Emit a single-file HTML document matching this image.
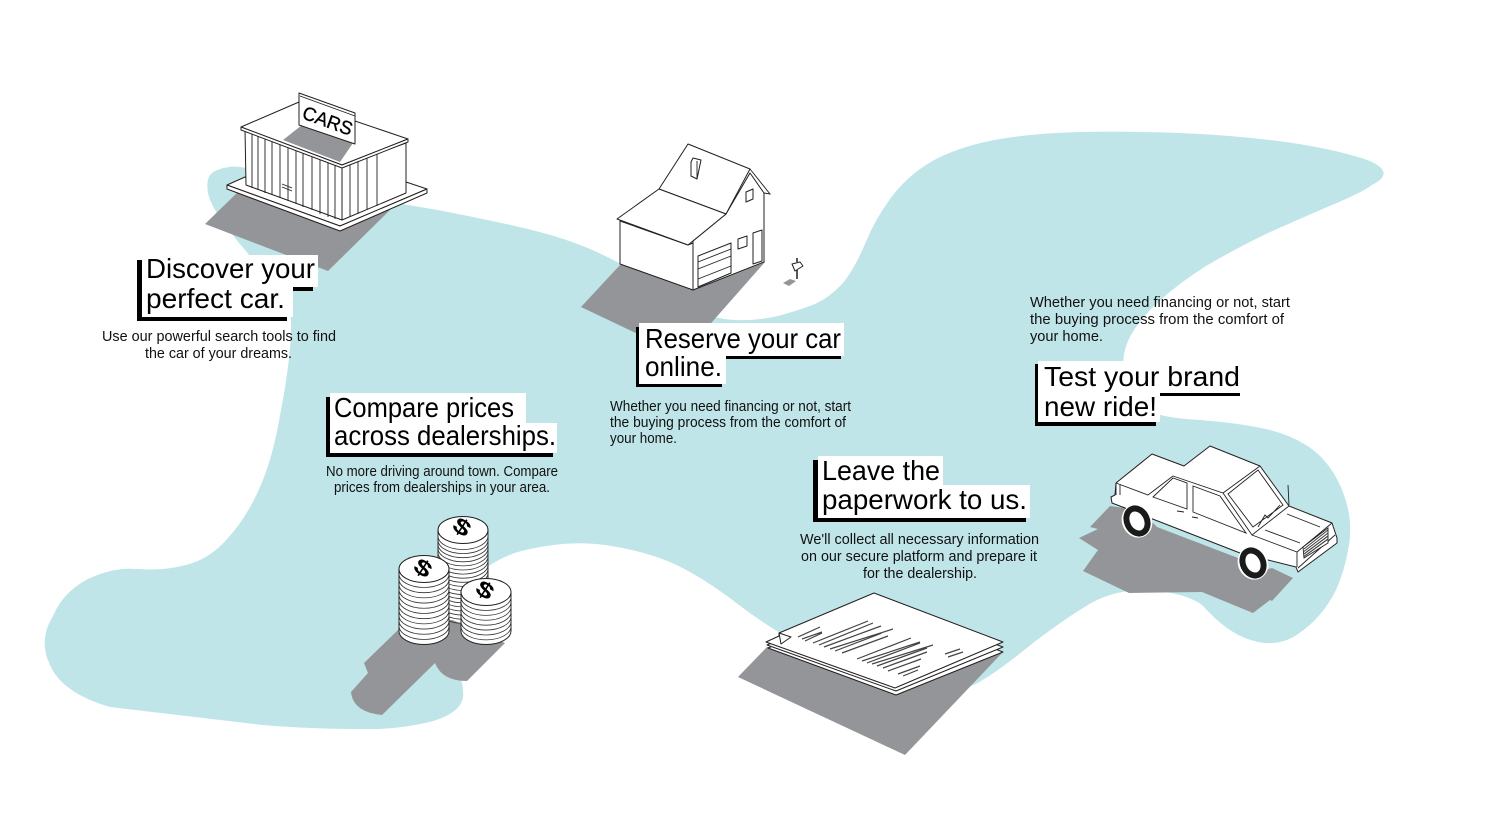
<!DOCTYPE html>
<html>
<head>
<meta charset="utf-8">
<style>
html,body{margin:0;padding:0;background:#fff;width:1500px;height:833px;overflow:hidden}
svg{display:block}
.t{font-family:"Liberation Sans",sans-serif;font-size:27.5px;fill:#000}
.b{font-family:"Liberation Sans",sans-serif;font-size:14.5px;fill:#111}
.l{fill:#fff;stroke:#231f20;stroke-width:1;stroke-linejoin:round}
.n{fill:none;stroke:#231f20;stroke-width:.9}
.c{fill:none;stroke:#333;stroke-width:.8}
.d{font-family:"Liberation Sans",sans-serif;font-weight:bold;font-size:22px;fill:#000}
</style>
</head>
<body>
<svg width="1500" height="833" viewBox="0 0 1500 833" xmlns="http://www.w3.org/2000/svg">
<rect width="1500" height="833" fill="#fff"/>
<path fill="#bfe5e8" d="M210,175 Q215,169 229,167 Q243,165 271,175 Q300,185 347,194 Q395,203 432,209 Q470,216 515,226 Q560,236 590,249 Q620,262 650,281 Q680,300 696,310 Q713,319 735,320 Q757,321 778,316 Q800,310 815,304 Q830,297 842,284 Q854,270 865,244 Q876,217 893,195 Q911,172 938,158 Q965,145 1000,139 Q1036,133 1081,132 Q1126,131 1179,133 Q1233,135 1286,142 Q1340,150 1370,161 Q1396,173 1372,185 Q1361,193 1332,205 Q1304,217 1268,233 Q1233,250 1206,266 Q1179,283 1157,303 Q1136,323 1128,341 Q1120,360 1125,380 Q1130,400 1145,409 Q1160,418 1200,420 Q1240,423 1270,430 Q1300,438 1318,454 Q1335,470 1344,495 Q1353,520 1349,545 Q1345,570 1336,590 Q1322,618 1298,634 Q1275,650 1245,638 Q1225,630 1205,608 Q1195,596 1155,590 Q1120,588 1093,602 Q1067,617 1033,643 Q1000,670 981,681 Q963,693 926,691 Q890,690 834,662 Q778,635 739,605 Q700,575 670,562 Q640,550 605,545 Q570,540 530,549 Q490,557 465,588 Q440,620 451,650 Q463,680 463,691 Q466,712 430,722 Q395,730 363,729 Q310,729 263,725 Q186,716 110,707 Q62,693 50,665 Q38,640 53,616 Q63,592 88,579 Q113,567 138,569 Q163,571 186,565 Q210,559 228,538 Q247,517 260,487 Q273,458 281,410 Q290,363 291,331 Q293,300 270,277 Q247,254 228,229 Q210,205 208,193 Q206,181 210,175 Z"/>

<!-- shadows -->
<g fill="#939598">
<polygon points="205,224 240,190 390,210 328,271"/>
<polygon points="581,307 620,265 765,262 705,330 640,335"/>
<polygon points="738,677 767,647 1003,652 905,755"/>
<polygon points="1110,506 1090,527 1098,529 1079,538 1098,550 1083,571 1129,593 1202,592 1253,613 1270,600 1272,601 1293,578 1272,568 1258,572 1238,558 1157,527 1140,510"/>
<path d="M398,630 L364,663 L368,673 L351,692 Q353,712 382,715 L435,663 Q442,681 467,681 L505,643 L448,618 Z"/>
<polygon points="783,283 790,279 796,281 789,286"/>
</g>

<!-- building -->
<polygon class="l" points="227,185 245,177 406,182 427,189 340,226"/>
<polygon class="l" points="227,185 340,226 427,189 427,193 340,231 227,189"/>
<polygon class="l" points="245,129 342,166 342,220 246,185"/>
<polygon class="l" points="342,166 406,143 406,193 342,220"/>
<path class="n" stroke-width=".8" d="M252,132V188M258,134V190M265,137V193M272,139V195M280,142V198M288,145V201M296,148V204M303,151V207M312,154V210M320,158V214M328,161V217M335,164V219M350,164V217M358,161V214M367,158V210M377,154V206"/>
<path class="n" d="M282,184L292,188M282,187L292,191" stroke-width=".7"/>
<polygon class="l" points="241,127 299,102 408,139 342,165"/>
<polygon class="l" points="241,127 342,165 408,139 408,142 342,168 241,130"/>
<polygon fill="#939598" points="283,140 302,125 353,143 340,162"/>
<polygon class="l" points="299,93 355,113 355,144 299,125"/>
<path class="n" d="M300,96L355,116"/>
<text x="301" y="118" transform="rotate(20 301 118)" font-family="Liberation Sans,sans-serif" font-size="19" stroke="#000" stroke-width=".3" textLength="52" lengthAdjust="spacingAndGlyphs">CARS</text>

<!-- house -->
<polygon class="l" points="620,221 688,245 693,243 693,290 620,264"/>
<polygon class="l" points="693,241 726,214 750,173 764,193 764,262 693,290"/>
<polygon class="l" points="659,189 688,144 750,169 726,214"/>
<polygon class="l" points="617,219 659,189 726,214 688,245"/>
<path class="n" d="M750,169L770,194L764,193"/>
<polygon class="l" points="691,162 693,158 701,160 697,179 691,176"/>
<path class="n" d="M697,161V179"/>
<polygon class="l" points="746,192 753,189 753,199 746,202"/>
<polygon class="l" points="738,239 747,236 747,246 738,249"/>
<polygon class="l" points="753,233 762,230 762,261 753,264"/>
<polygon class="l" points="698,256 731,243 731,273 698,287"/>
<path class="n" d="M698,262L731,249M698,269L731,256M698,279L731,266"/>
<polygon class="l" points="792,264 800,262 803,266 795,271"/>
<path stroke="#231f20" stroke-width="1.5" d="M797,270V279M797,258V262"/>

<!-- coins -->
<g class="l">
<rect x="438" y="530" width="50" height="90" stroke="none"/>
<path class="n" d="M438,530V618M488,530V618"/>
<path class="c" d="M438,536a25,13.5 0 0 0 50,0m-50,4.1a25,13.5 0 0 0 50,0m-50,4.1a25,13.5 0 0 0 50,0m-50,4.1a25,13.5 0 0 0 50,0m-50,4.1a25,13.5 0 0 0 50,0m-50,4.1a25,13.5 0 0 0 50,0m-50,4.1a25,13.5 0 0 0 50,0m-50,4.1a25,13.5 0 0 0 50,0m-50,4.1a25,13.5 0 0 0 50,0m-50,4.1a25,13.5 0 0 0 50,0m-50,4.1a25,13.5 0 0 0 50,0m-50,4.1a25,13.5 0 0 0 50,0m-50,4.1a25,13.5 0 0 0 50,0m-50,4.1a25,13.5 0 0 0 50,0m-50,4.1a25,13.5 0 0 0 50,0m-50,4.1a25,13.5 0 0 0 50,0m-50,4.1a25,13.5 0 0 0 50,0m-50,4.1a25,13.5 0 0 0 50,0m-50,4.1a25,13.5 0 0 0 50,0"/>
<ellipse cx="463" cy="530" rx="25" ry="13.5"/>
</g>
<g class="l">
<path d="M461,592V631a25,13.5 0 0 0 50,0V592Z"/>
<path class="c" d="M461,597a25,13.5 0 0 0 50,0m-50,4.9a25,13.5 0 0 0 50,0m-50,4.9a25,13.5 0 0 0 50,0m-50,4.9a25,13.5 0 0 0 50,0m-50,4.9a25,13.5 0 0 0 50,0m-50,4.9a25,13.5 0 0 0 50,0m-50,4.9a25,13.5 0 0 0 50,0"/>
<ellipse cx="486" cy="592" rx="25" ry="13.5"/>
</g>
<g class="l">
<path d="M399,569V631a25,13.5 0 0 0 50,0V569Z"/>
<path class="c" d="M399,574a25,13.5 0 0 0 50,0m-50,5.2a25,13.5 0 0 0 50,0m-50,5.2a25,13.5 0 0 0 50,0m-50,5.2a25,13.5 0 0 0 50,0m-50,5.2a25,13.5 0 0 0 50,0m-50,5.2a25,13.5 0 0 0 50,0m-50,5.2a25,13.5 0 0 0 50,0m-50,5.2a25,13.5 0 0 0 50,0m-50,5.2a25,13.5 0 0 0 50,0m-50,5.2a25,13.5 0 0 0 50,0m-50,5.2a25,13.5 0 0 0 50,0"/>
<ellipse cx="424" cy="569" rx="25" ry="13.5"/>
</g>
<text class="d" text-anchor="middle" transform="translate(462,527) rotate(33) scale(1.4,1) translate(0,7.5)">$</text>
<text class="d" text-anchor="middle" transform="translate(423,568) rotate(33) scale(1.4,1) translate(0,7.5)">$</text>
<text class="d" text-anchor="middle" transform="translate(485,590) rotate(33) scale(1.4,1) translate(0,7.5)">$</text>

<!-- paper -->
<polygon class="l" points="768,648 874,603 1003,652 896,695"/>
<polygon class="l" points="767,645 874,599 1003,647 896,691"/>
<polygon class="l" points="766,642 779,636 779,633 874,593 1003,642 895,688"/>
<polygon class="l" points="779,633 791,637 781,644"/>
<path stroke="#444" stroke-width="1.2" fill="none" d="M798,637L820,627M802,639L822,632M805,641L822,633M813,643L868,621M819,645L873,623M824,647L881,626M830,649L893,629M835,651L882,633M842,653L888,636M857,659L911,638M862,661L920,642M867,663L920,643M872,664L933,645M877,666L927,648M883,668L927,652M888,671L921,659M898,674L920,666M903,676L918,670M945,654L960,649M948,657L963,652"/>

<!-- car -->
<polygon class="l" points="1116,483 1152,454 1184,466 1210,446 1260,466 1289,506 1332,523 1337,538 1337,543 1298,572 1296,567 1240,553 1150,518 1125,508 1112,503 1111,497 1115,495"/>
<path class="n" d="M1116,483L1148,495L1173,476M1173,476L1223,493L1260,466M1116,483V495M1120,485V495"/>
<path class="n" d="M1153,497L1173,478L1187,483V509Z M1193,486L1220,496L1246,533L1193,512Z M1228,494L1258,470L1283,505L1253,527Z M1223,493L1252,535L1289,506M1252,535L1297,552L1332,523M1297,552V567M1298,568L1335,535M1265,530L1300,543M1287,514L1320,527M1288,485L1289,505M1258,527L1265,515L1268,518L1280,505M1177,511L1184,512M1192,517L1198,518"/>
<polygon fill="#fff" stroke="#231f20" stroke-width=".9" points="1303,547 1328,528 1328,543 1304,558"/>
<path stroke="#444" stroke-width="1.1" d="M1304,549L1328,530M1304,551.5L1328,533M1304,554L1328,536M1304,556.5L1328,539"/>
<ellipse cx="1253" cy="563" rx="15" ry="17" fill="#fff" transform="rotate(-25 1253 563)"/>
<ellipse cx="1253" cy="563" rx="10" ry="13" fill="#fff" stroke="#1a1a1a" stroke-width="6" transform="rotate(-25 1253 563)"/>
<ellipse cx="1137" cy="521" rx="15" ry="17" fill="#fff" transform="rotate(-25 1137 521)"/>
<ellipse cx="1137" cy="521" rx="10" ry="13" fill="#fff" stroke="#1a1a1a" stroke-width="6" transform="rotate(-25 1137 521)"/>

<!-- Discover -->
<g fill="#000"><rect x="137" y="260" width="176" height="31"/><rect x="137" y="291" width="150" height="30"/></g>
<g fill="#fff"><rect x="145" y="255" width="173" height="32"/><rect x="142" y="287" width="151" height="30"/><rect x="142" y="260" width="5" height="30"/></g>
<text class="t" x="146" y="278" textLength="169" lengthAdjust="spacingAndGlyphs">Discover your</text>
<text class="t" x="146" y="308" textLength="139" lengthAdjust="spacingAndGlyphs">perfect car.</text>
<text class="b" x="102" y="341" textLength="234" lengthAdjust="spacingAndGlyphs">Use our powerful search tools to find</text>
<text class="b" x="145" y="358" textLength="147" lengthAdjust="spacingAndGlyphs">the car of your dreams.</text>

<!-- Reserve -->
<g fill="#000"><rect x="636" y="327" width="205" height="32"/><rect x="636" y="359" width="86" height="28"/></g>
<g fill="#fff"><rect x="639" y="323" width="205" height="33"/><rect x="639" y="356" width="87" height="28"/></g>
<text class="t" x="645" y="348" textLength="196" lengthAdjust="spacingAndGlyphs">Reserve your car</text>
<text class="t" x="645" y="376" textLength="77" lengthAdjust="spacingAndGlyphs">online.</text>
<text class="b" x="610" y="411" textLength="241" lengthAdjust="spacingAndGlyphs">Whether you need financing or not, start</text>
<text class="b" x="610" y="427" textLength="236" lengthAdjust="spacingAndGlyphs">the buying process from the comfort of</text>
<text class="b" x="610" y="443" textLength="67" lengthAdjust="spacingAndGlyphs">your home.</text>

<!-- Compare -->
<g fill="#000"><rect x="326" y="397" width="190" height="30"/><rect x="326" y="427" width="227" height="30"/></g>
<g fill="#fff"><rect x="330" y="393" width="196" height="30"/><rect x="330" y="423" width="227" height="30"/></g>
<text class="t" x="334" y="417" textLength="180" lengthAdjust="spacingAndGlyphs">Compare prices</text>
<text class="t" x="334" y="445" textLength="222" lengthAdjust="spacingAndGlyphs">across dealerships.</text>
<text class="b" x="326" y="476" textLength="232" lengthAdjust="spacingAndGlyphs">No more driving around town. Compare</text>
<text class="b" x="334" y="492" textLength="216" lengthAdjust="spacingAndGlyphs">prices from dealerships in your area.</text>

<!-- Leave -->
<g fill="#000"><rect x="813" y="460" width="120" height="30"/><rect x="813" y="490" width="213" height="32"/></g>
<g fill="#fff"><rect x="818" y="456" width="125" height="29"/><rect x="818" y="485" width="212" height="33"/></g>
<text class="t" x="822" y="480" textLength="118" lengthAdjust="spacingAndGlyphs">Leave the</text>
<text class="t" x="822" y="509" textLength="205" lengthAdjust="spacingAndGlyphs">paperwork to us.</text>
<text class="b" x="800" y="544" textLength="239" lengthAdjust="spacingAndGlyphs">We'll collect all necessary information</text>
<text class="b" x="801" y="561" textLength="236" lengthAdjust="spacingAndGlyphs">on our secure platform and prepare it</text>
<text class="b" x="863" y="578" textLength="114" lengthAdjust="spacingAndGlyphs">for the dealership.</text>

<!-- Test -->
<g fill="#000"><rect x="1035" y="364" width="205" height="32"/><rect x="1035" y="396" width="121" height="30"/></g>
<g fill="#fff"><rect x="1038" y="361" width="202" height="32"/><rect x="1038" y="393" width="122" height="29"/></g>
<text class="t" x="1044" y="386" textLength="196" lengthAdjust="spacingAndGlyphs">Test your brand</text>
<text class="t" x="1044" y="416" textLength="113" lengthAdjust="spacingAndGlyphs">new ride!</text>
<text class="b" x="1030" y="307" textLength="260" lengthAdjust="spacingAndGlyphs">Whether you need financing or not, start</text>
<text class="b" x="1030" y="324" textLength="254" lengthAdjust="spacingAndGlyphs">the buying process from the comfort of</text>
<text class="b" x="1030" y="341" textLength="73" lengthAdjust="spacingAndGlyphs">your home.</text>
</svg>
</body>
</html>
